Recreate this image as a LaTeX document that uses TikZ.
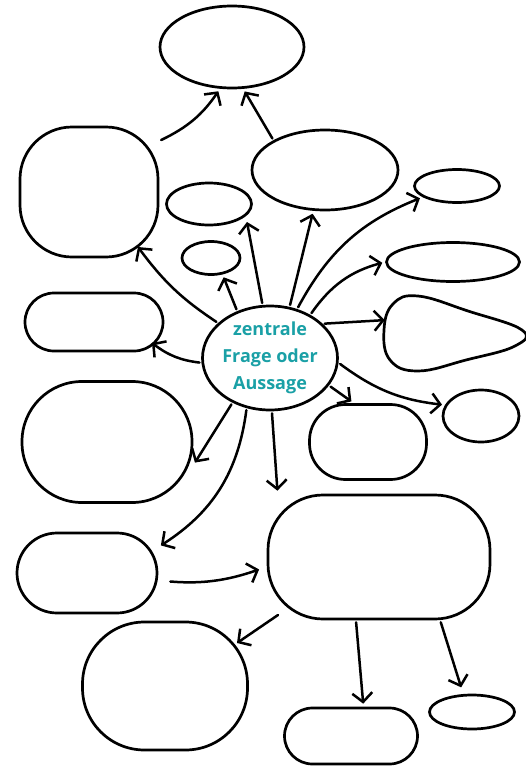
\documentclass[tikz,border=0pt]{standalone}
\usepackage{fontspec}
\newfontfamily\bubblefont{Open Sans}
\usetikzlibrary{shapes.geometric,arrows.meta}
\definecolor{mapteal}{HTML}{1AA0A6}
\tikzset{
  oval/.style={draw, ellipse, line width=2.7pt, inner sep=0pt},
  blob/.style={draw, rectangle, line width=2.7pt, inner sep=0pt},
  arr/.style={line width=2.5pt, line cap=round, line join=round,
    -{Straight Barb[length=9pt,width=20pt,line width=2.5pt]},
    shorten >=3pt, shorten <=2pt},
}
\begin{document}
\begin{tikzpicture}[x=1pt, y=-1pt]
\useasboundingbox (0,0) rectangle (526,766);
% Mitte
\node[oval, minimum width=135, minimum height=104, text=mapteal,
  align=center, font=\bubblefont\bfseries\fontsize{18}{27}\selectfont]
  (frage) at (270,358) {zentrale\\Frage oder\\Aussage};
% obere Reihe
\node[oval, minimum width=144, minimum height=82] (top) at (232,47) {};
\node[blob, rounded corners=52, minimum width=138, minimum height=130] (lbox) at (89,192) {};
\node[oval, minimum width=146, minimum height=80] (e3) at (325,170) {};
\node[oval, minimum width=85, minimum height=42] (e4) at (209,204) {};
\node[oval, minimum width=85, minimum height=33] (e5) at (457,186) {};
\node[oval, minimum width=58, minimum height=33] (e6) at (211,258) {};
\node[oval, minimum width=133, minimum height=39] (e7) at (453,262) {};
\node[blob, rounded corners=29, minimum width=138, minimum height=58] (b8) at (94,322) {};
% Tropfen rechts
\draw[line width=2.7pt] plot[smooth cycle, tension=0.7] coordinates
  {(384,330) (393,304) (418,296) (468,311) (522,330) (515,346) (466,360) (418,371) (390,360)};
\node[ellipse, minimum width=142, minimum height=76, inner sep=0pt] (tear) at (454,334) {};
% mittlere Reihe
\node[blob, rounded corners=60, minimum width=170, minimum height=121] (b11) at (107,442) {};
\node[oval, minimum width=76, minimum height=52] (e12) at (481,416) {};
\node[blob, rounded corners=36, minimum width=117, minimum height=75] (b13) at (368,442) {};
\node[blob, rounded corners=55, minimum width=222, minimum height=124] (b14) at (379,557) {};
\node[blob, rounded corners=40, minimum width=140, minimum height=80] (b15) at (87,573) {};
% untere Reihe
\node[blob, rounded corners=62, minimum width=165, minimum height=128] (b16) at (165,686) {};
\node[blob, rounded corners=28, minimum width=133, minimum height=56] (b17) at (351,736) {};
\node[oval, minimum width=85, minimum height=34] (e18) at (472,712) {};
% Pfeile
\draw[arr] (lbox.36) to[bend right=15] (top.-106);
\draw[arr] (e3.150) -- (top.-75);
\draw[arr, shorten >=0pt] (frage.146) to[bend left=10] ([shift={(49,55)}]lbox.center);
\draw[arr] (frage.125) -- (e6.-55);
\draw[arr, shorten >=0pt] (frage.98) -- ([shift={(38,18)}]e4.center);
\draw[arr] (frage.69) -- (e3.-106);
\draw[arr] (frage.61) to[bend left=20] (e5.198);
\draw[arr] (frage.47) to[bend left=20] (e7.west);
\draw[arr] (frage.33) -- (tear.168);
\draw[arr] (frage.-4) to[bend right=15] (e12.163);
\draw[arr] (frage.-25) -- (b13.110);
\draw[arr, shorten >=0pt] (frage.184) to[bend left=15] ([shift={(58,21)}]b8.center);
\draw[arr] (frage.230) -- (b11.-15);
\draw[arr] (frage.245) to[bend left=25] (b15.20);
\draw[arr] (frage.272) -- (b14.148);
\draw[arr, shorten <=12pt, shorten >=8pt] (b15.-6) to[bend right=12] (b14.185);
\draw[arr, shorten <=0pt, shorten >=0pt] ([shift={(-101,58)}]b14.center) -- ([shift={(72,-43)}]b16.center);
\draw[arr] (b14.250) -- (b17.67);
\draw[arr, shorten >=7pt] (b14.-46) -- (e18.116);
\end{tikzpicture}
\end{document}
